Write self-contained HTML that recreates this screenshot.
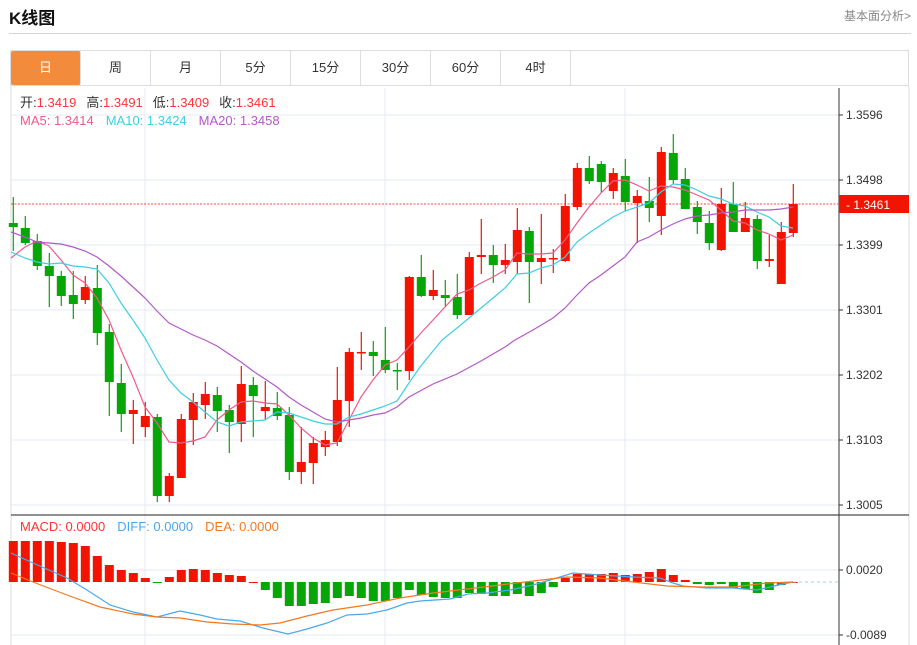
<!DOCTYPE html>
<html><head><meta charset="utf-8"><style>
body{margin:0;width:917px;height:645px;background:#fff;overflow:hidden;font-family:"Liberation Sans","Noto Sans CJK SC",sans-serif;position:relative}
.t{position:absolute;left:9px;top:4px;font-size:17px;font-weight:bold;color:#111}
.r{position:absolute;right:6px;top:7px;font-size:12px;color:#888}
.hl{position:absolute;left:9px;right:6px;top:33px;border-top:1px solid #d4d4d4}
.tabs{position:absolute;left:10px;top:50px;width:899px;height:36px;border:1px solid #ddd;box-sizing:border-box;display:flex}
.tabs div{width:69px;border-right:1px solid #ddd;text-align:center;line-height:34px;font-size:13px;color:#333}
.tabs div.a{background:#f28c3c;color:#fff;width:69px;border-radius:2px}
</style></head><body>
<div class="t">K线图</div><div class="r">基本面分析&gt;</div><div class="hl"></div>
<div class="tabs"><div class="a">日</div><div>周</div><div>月</div><div>5分</div><div>15分</div><div>30分</div><div>60分</div><div>4时</div></div>
<svg id="s" width="917" height="645" style="position:absolute;left:0;top:0" xmlns="http://www.w3.org/2000/svg" font-family="Liberation Sans, Noto Sans CJK SC, sans-serif"></svg>
<script>
var s='';
s+='<line x1="11" y1="86" x2="11" y2="645" stroke="#ddd"/><line x1="909" y1="86" x2="909" y2="645" stroke="#ddd"/>';
[115,180,245,310,375,440,505].forEach(function(y){s+='<line x1="11" y1="'+y+'" x2="839" y2="'+y+'" stroke="#e3eaf0"/>';});
[570,635].forEach(function(y){s+='<line x1="11" y1="'+y+'" x2="839" y2="'+y+'" stroke="#e3eaf0"/>';});
[145,385,625].forEach(function(x){s+='<line x1="'+x+'" y1="88" x2="'+x+'" y2="645" stroke="#e3eaf0"/>';});
s+='<line x1="11" y1="515" x2="909" y2="515" stroke="#222"/><line x1="839" y1="88" x2="839" y2="645" stroke="#333"/>';
var lab=[[115,'1.3596'],[180,'1.3498'],[245,'1.3399'],[310,'1.3301'],[375,'1.3202'],[440,'1.3103'],[505,'1.3005'],[570,'0.0020'],[635,'-0.0089']];
lab.forEach(function(l){s+='<line x1="839" y1="'+l[0]+'" x2="843" y2="'+l[0]+'" stroke="#333"/><text x="846" y="'+(l[0]+4)+'" font-size="12" fill="#333">'+l[1]+'</text>';});
s+='<line x1="11" y1="204" x2="839" y2="204" stroke="#f44" stroke-dasharray="2,1.5"/>';
s+='<rect x="839" y="195" width="70" height="18" fill="#f21400"/><text x="846" y="209" font-size="12" fill="#fff">- 1.3461</text>';
var C=[[223,227,197,251,0],[228,243,216,245,0],[241,266,234,270,0],[266,276,253,307,0],[276,296,271,306,0],[295,304,271,319,0],[287,300,276,304,1],[288,333,265,345,0],[332,382,324,416,0],[383,414,364,432,0],[410,414,400,444,1],[416,427,402,437,1],[417,496,414,502,0],[476,496,473,502,1],[419,478,414,478,1],[402,420,393,445,1],[394,405,382,419,1],[395,411,387,432,0],[410,422,405,453,0],[384,424,366,442,1],[385,396,377,437,0],[407,411,381,420,1],[408,416,392,420,0],[415,472,407,480,0],[462,472,427,484,1],[443,463,437,484,1],[440,447,431,456,1],[400,442,367,446,1],[352,401,348,427,1],[352,353,332,370,1],[352,356,341,376,0],[360,370,327,373,0],[370,371,363,390,0],[277,371,276,380,1],[277,296,255,297,0],[290,296,270,300,1],[295,298,280,306,0],[297,315,274,319,0],[257,315,252,315,1],[255,257,219,274,1],[255,265,245,283,0],[260,265,244,274,1],[230,262,208,274,1],[231,262,227,303,0],[258,262,214,284,1],[258,259,249,273,1],[206,261,194,262,1],[168,207,163,210,1],[168,181,156,184,0],[164,182,161,193,0],[173,191,168,199,1],[176,202,159,211,0],[196,203,190,243,1],[201,208,177,222,0],[152,216,147,235,1],[153,180,134,184,0],[179,209,168,209,0],[207,222,201,234,0],[223,243,211,250,0],[204,250,188,251,1],[204,232,182,232,0],[218,232,202,232,1],[219,261,215,269,0],[259,261,235,267,1],[232,284,222,284,1],[204,233,184,237,1]];
C.forEach(function(c,i){var x=13.3+12*i,col=c[4]?'#f21400':'#06a606';
s+='<line x1="'+x+'" y1="'+c[2]+'" x2="'+x+'" y2="'+c[3]+'" stroke="'+col+'" stroke-width="1.2"/>';
s+='<rect x="'+(x-4.5)+'" y="'+c[0]+'" width="9" height="'+Math.max(1.5,c[1]-c[0])+'" fill="'+col+'"/>';});
var M=[541,541,541,541,542,543,546,556,565,570,573,578,-583,577,570,569,570,573,575,576,582,-590,-598,-606,-606,-604,-603,-598,-596,-598,-601,-601,-598,-590,-595,-597,-598,-598,-593,-594,-596,-596,-594,-596,-593,-587,578,574,574,574,573,575,574,572,569,575,580,-584,-585,-584,-588,-589,-593,-590,-585,582];
M.forEach(function(v,i){var x=13.3+12*i,neg=v<0;v=Math.abs(v);var y1=Math.min(v,582),h=Math.max(1,Math.abs(v-582));
s+='<rect x="'+(x-4.5)+'" y="'+y1+'" width="9" height="'+h+'" fill="'+(neg?'#06a606':'#f21400')+'"/>';});
s+='<line x1="793" y1="582" x2="838" y2="582" stroke="#9cd3ee" stroke-dasharray="3,3"/>';
function pl(p,c){s+='<polyline fill="none" stroke="'+c+'" stroke-width="1.2" points="'+p+'"/>';}
pl('11,258 25,247 37,241 49,246 61,260 73,275 85,283 97,298 109,320 121,350 133,377 145,407 157,423 169,442 181,443 193,441 205,437 217,420 229,410 241,402 253,401 265,403 277,404 289,415 301,428 313,438 325,445 337,443 349,420 361,397 373,380 385,365 397,360 409,347 420,334 433,320 457,294 469,290 481,283 493,277 505,270 517,253 529,254 541,254 553,253 565,240 577,223 589,207 601,193 613,181 625,180 637,185 649,191 661,186 673,187 685,190 697,195 709,200 721,210 733,221 745,223 757,230 769,234 781,240 793,235','#ef5a8a');
pl('11,252 25,258 37,262 49,264 61,263 73,266 85,267 97,269 109,283 121,303 133,320 145,338 157,360 169,380 181,393 193,402 205,412 217,422 229,426 241,422 253,421 265,420 277,412 289,413 301,417 313,421 325,424 337,424 349,417 361,414 373,410 385,406 397,401 409,383 420,367 442,340 457,328 469,318 481,308 493,298 505,288 517,274 529,273 541,268 553,265 565,257 577,242 589,233 601,225 613,217 625,211 637,207 649,203 661,192 673,184 685,185 697,190 709,196 721,199 733,204 745,206 757,212 769,217 781,226 793,228','#3ccfe0');
pl('11,232 25,237 37,242 49,243 61,244 73,247 85,251 97,257 109,266 121,276 133,287 145,298 157,311 169,323 181,329 193,335 205,340 217,346 229,354 241,362 253,371 265,379 277,387 289,397 301,405 313,412 325,419 337,422 349,420 361,418 373,415 385,413 397,407 409,397 420,391 433,384 457,374 481,361 505,347 515,340 533,330 553,318 565,308 577,295 589,283 601,275 613,266 625,257 637,242 649,237 661,230 673,224 685,219 697,216 709,215 721,213 733,212 745,210 757,210 769,210 781,209 793,207','#b358c9');
pl('11,553 33,563 67,578 87,590 110,605 133,612 157,617 180,611 200,615 217,619 240,621 263,628 288,634 307,629 327,623 347,615 367,614 387,610 407,603 420,601 450,599 468,594 487,593 510,590 533,585 550,580 573,573 600,575 633,577 660,578 673,583 683,586 707,588 733,588 757,590 770,587 783,584 793,582','#4aa8ee');
pl('11,573 33,582 67,595 100,607 133,614 157,617 180,618 207,622 233,624 260,625 280,623 307,616 333,610 367,605 400,598 433,593 467,589 500,585 533,581 567,577 600,578 633,582 667,586 700,587 733,587 767,583 793,582','#f27920');
s+='<text x="20" y="107" font-size="13"><tspan fill="#333">开:</tspan><tspan fill="#f33">1.3419</tspan><tspan fill="#333" dx="10">高:</tspan><tspan fill="#f33">1.3491</tspan><tspan fill="#333" dx="10">低:</tspan><tspan fill="#f33">1.3409</tspan><tspan fill="#333" dx="10">收:</tspan><tspan fill="#f33">1.3461</tspan></text>';
s+='<text x="20" y="125" font-size="13"><tspan fill="#ef5a8a">MA5: 1.3414</tspan><tspan fill="#3ccfe0" dx="12">MA10: 1.3424</tspan><tspan fill="#b358c9" dx="12">MA20: 1.3458</tspan></text>';
s+='<text x="20" y="531" font-size="13"><tspan fill="#f33">MACD: 0.0000</tspan><tspan fill="#4aa8ee" dx="12">DIFF: 0.0000</tspan><tspan fill="#f27920" dx="12">DEA: 0.0000</tspan></text>';
document.getElementById('s').innerHTML=s;
</script>
</body></html>
